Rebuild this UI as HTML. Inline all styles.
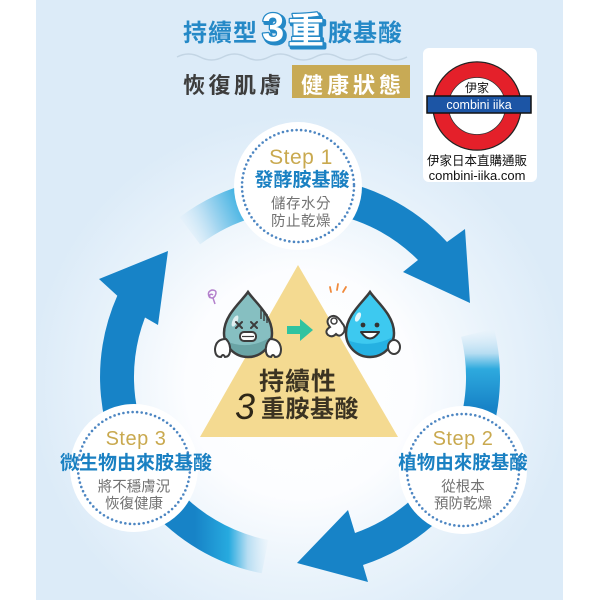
<!DOCTYPE html>
<html><head><meta charset="utf-8">
<style>
html,body{margin:0;padding:0;background:#fff;}
svg{display:block;}
text{font-family:"Liberation Sans","Noto Sans CJK TC",sans-serif;}
</style></head><body>
<svg width="600" height="600" viewBox="0 0 600 600" xmlns="http://www.w3.org/2000/svg">
<defs>
<radialGradient id="bg" cx="300" cy="385" r="270" gradientUnits="userSpaceOnUse">
<stop offset="0" stop-color="#ffffff"/>
<stop offset="0.42" stop-color="#fcfdff"/>
<stop offset="0.72" stop-color="#e9f3fb"/>
<stop offset="1" stop-color="#dcebf8"/>
</radialGradient>
<linearGradient id="gA" x1="0" y1="330" x2="0" y2="408" gradientUnits="userSpaceOnUse">
<stop offset="0" stop-color="#cfe7f6" stop-opacity="0"/>
<stop offset="0.3" stop-color="#b6ddf2"/>
<stop offset="0.5" stop-color="#2eaade"/>
<stop offset="1" stop-color="#1783c7"/>
</linearGradient>
<linearGradient id="gB" x1="270" y1="0" x2="195" y2="0" gradientUnits="userSpaceOnUse">
<stop offset="0" stop-color="#cfe7f6" stop-opacity="0"/>
<stop offset="0.3" stop-color="#b6ddf2"/>
<stop offset="0.55" stop-color="#27aadf"/>
<stop offset="1" stop-color="#1783c7"/>
</linearGradient>
<linearGradient id="gC" x1="182" y1="228" x2="245" y2="200" gradientUnits="userSpaceOnUse">
<stop offset="0" stop-color="#cfe7f6" stop-opacity="0"/>
<stop offset="0.45" stop-color="#a9d8f1"/>
<stop offset="1" stop-color="#33ade0"/>
</linearGradient>
</defs>

<!-- panel background -->
<rect x="36" y="0" width="527" height="600" fill="#dcebf8"/>
<rect x="36" y="0" width="527" height="600" fill="url(#bg)"/>

<!-- header -->
<text x="183" y="41" font-size="24" font-weight="700" fill="#2589c7" letter-spacing="1">持續型</text>
<text x="264" y="43" font-size="40" font-weight="700" fill="#2589c7" stroke="#2589c7" stroke-width="4" stroke-linejoin="round">3</text>
<text x="262" y="41" font-size="40" font-weight="700" fill="#ffffff" stroke="#2589c7" stroke-width="2.5" stroke-linejoin="round" paint-order="stroke">3</text>
<text x="290" y="45" font-size="36" font-weight="700" fill="#2589c7" stroke="#2589c7" stroke-width="4" stroke-linejoin="round">重</text>
<text x="288" y="43" font-size="36" font-weight="700" fill="#ffffff" stroke="#2589c7" stroke-width="2.5" stroke-linejoin="round" paint-order="stroke">重</text>
<text x="328" y="41" font-size="24" font-weight="700" fill="#2589c7" letter-spacing="1">胺基酸</text>
<path d="M177,57 q11.5,-6 23,0 t23,0 t23,0 t23,0 t23,0 t23,0 t23,0 t23,0 t23,0 t23,0" fill="none" stroke="#c3d5e4" stroke-width="1.5"/>
<text x="183" y="93" font-size="22" font-weight="700" fill="#3d3d3d" letter-spacing="3.5">恢復肌膚</text>
<rect x="292" y="65" width="118" height="33" fill="#c8aa55"/>
<text x="301" y="93" font-size="22" font-weight="700" fill="#ffffff" letter-spacing="4">健康狀態</text>

<!-- logo -->
<rect x="423" y="48" width="114" height="134" rx="6" fill="#ffffff"/>
<circle cx="477" cy="106" r="44" fill="#ffffff" stroke="#222" stroke-width="1.5"/>
<circle cx="477" cy="106" r="36" fill="#ffffff" stroke="#e4202a" stroke-width="15"/>
<circle cx="477" cy="106" r="28.5" fill="none" stroke="#333" stroke-width="0.8"/>
<text x="477" y="92" font-size="12" fill="#111" text-anchor="middle">伊家</text>
<rect x="427" y="96" width="104" height="17" fill="#1c55a5" stroke="#111" stroke-width="1.5"/>
<text x="479" y="109" font-size="12.5" fill="#ffffff" text-anchor="middle">combini iika</text>
<text x="477" y="165" font-size="12.5" fill="#111" text-anchor="middle">伊家日本直購通販</text>
<text x="477" y="180" font-size="13" fill="#111" text-anchor="middle">combini-iika.com</text>

<!-- faded trail segments -->
<path d="M494.1,328.6 A200,200 0 0 1 485.4,451.9 L453.9,439.2 A166,166 0 0 0 461.1,336.8 Z" fill="url(#gA)"/>
<path d="M261.8,573.3 A200,200 0 0 1 146.8,505.6 L172.8,483.7 A166,166 0 0 0 268.3,540 Z" fill="url(#gB)"/>
<path d="M179.6,217.3 A200,200 0 0 1 272.2,178.9 L276.9,212.6 A166,166 0 0 0 200.1,244.4 Z" fill="url(#gC)"/>

<!-- arrows -->
<path d="M317.4,177.8 A200,200 0 0 1 447,242 L465,229 L470,303 L403,272 L418,260 A166,166 0 0 0 314.5,211.6 Z" fill="#1783c7"/>
<path d="M481.3,461.5 A200,200 0 0 1 363,565 L368,582 L297,563 L348,510 L355,533 A166,166 0 0 0 450.4,447.2 Z" fill="#1783c7"/>
<path d="M136.2,491.7 A200,200 0 0 1 117.3,295.7 L99,279 L168,251 L158,325 L145,317.5 A166,166 0 0 0 164,472.2 Z" fill="#1783c7"/>

<!-- triangle -->
<polygon points="298,265 200,437 398,437" fill="#f4da91"/>
<text x="298" y="390" font-size="25" font-weight="700" fill="#3b3322" text-anchor="middle" letter-spacing="1">持續性</text>
<text x="235" y="419" font-size="36" fill="#2e2718" font-style="italic">3</text>
<text x="261" y="417" font-size="24" font-weight="700" fill="#3b3322" letter-spacing="0.5">重胺基酸</text>

<!-- green arrow -->
<path d="M287,326 L300,326 L300,319 L313,330 L300,341 L300,334 L287,334 Z" fill="#2fc3a0"/>

<!-- left sad drop -->
<path d="M210,298 q-4,-6 2,-8 q6,0 3,6 q-3,4 -6,0 q2,-3 4,-1 M213,298 l2,6" fill="none" stroke="#b480cc" stroke-width="1.5"/>
<g transform="translate(248,325)">
<path d="M0,-33 C6,-24 24,-10 24,8 A24,24 0 0 1 -24,8 C-24,-10 -6,-24 0,-33Z" fill="#86bfc1"/>
<path d="M-22,16 Q0,26 23,12 Q20,30 0,32 Q-18,30 -22,16Z" fill="#6aa4a5"/>
<path d="M0,-33 C6,-24 24,-10 24,8 A24,24 0 0 1 -24,8 C-24,-10 -6,-24 0,-33Z" fill="none" stroke="#3c3c3c" stroke-width="2.5"/>
<ellipse cx="-13" cy="-4" rx="2.5" ry="6" fill="#ffffff" opacity="0.75" transform="rotate(25 -13 -4)"/>
<path d="M-12,-3 l6,6 M-6,-3 l-6,6 M3,-3 l6,6 M9,-3 l-6,6" stroke="#3c3c3c" stroke-width="2" stroke-linecap="round"/>
<rect x="-8" y="7" width="16" height="9" rx="4" fill="#ffffff" stroke="#3c3c3c" stroke-width="2"/>
<path d="M-6,11.5 h12" stroke="#3c3c3c" stroke-width="1.2"/>
<path d="M13,-16 v10 M16,-14 v10 M19,-11 v9" stroke="#3c3c3c" stroke-width="1.4"/>
<path d="M-22,14 q-10,0 -11,10 q0,8 6,8 q2,-4 4,0 q4,0 5,-5 q1,-8 -4,-13Z" fill="#ffffff" stroke="#3c3c3c" stroke-width="2"/>
<path d="M22,14 q10,0 11,10 q0,8 -6,8 q-2,-4 -4,0 q-4,0 -5,-5 q-1,-8 4,-13Z" fill="#ffffff" stroke="#3c3c3c" stroke-width="2"/>
</g>

<!-- right happy drop -->
<path d="M331,292 l-1,-5 M337,290 l1,-6 M343,292 l3,-5" stroke="#f08a3c" stroke-width="1.8" stroke-linecap="round"/>
<g transform="translate(370,325)">
<path d="M0,-33 C6,-24 24,-10 24,8 A24,24 0 0 1 -24,8 C-24,-10 -6,-24 0,-33Z" fill="#3dc9f0"/>
<path d="M-23,15 Q0,24 23,12 Q20,30 0,32 Q-18,30 -23,15Z" fill="#25b1e2"/>
<path d="M0,-33 C6,-24 24,-10 24,8 A24,24 0 0 1 -24,8 C-24,-10 -6,-24 0,-33Z" fill="none" stroke="#3c3c3c" stroke-width="2.5"/>
<ellipse cx="-12" cy="-8" rx="2.5" ry="5" fill="#ffffff" opacity="0.85" transform="rotate(25 -12 -8)"/>
<circle cx="-7" cy="0" r="2.4" fill="#333"/>
<circle cx="7" cy="0" r="2.4" fill="#333"/>
<path d="M-9,7 Q0,20 9,7 Z" fill="#ffffff" stroke="#333" stroke-width="2" stroke-linejoin="round"/>
<path d="M-28,-2 q-6,-10 -12,-6 q-5,4 0,10 q-6,4 -2,8 q4,3 8,-1 q4,4 8,-2 q2,-5 -2,-9Z" fill="#ffffff" stroke="#3c3c3c" stroke-width="2"/>
<circle cx="-36" cy="-4" r="3" fill="none" stroke="#3c3c3c" stroke-width="1.5"/>
<ellipse cx="24" cy="22" rx="6" ry="7" fill="#ffffff" stroke="#3c3c3c" stroke-width="2"/>
</g>

<!-- step circles -->
<circle cx="298" cy="186" r="64" fill="#ffffff"/>
<circle cx="298" cy="186" r="56" fill="none" stroke="#4d86c2" stroke-width="2.6" stroke-dasharray="0 4.6" stroke-linecap="round"/>
<circle cx="134" cy="468" r="64" fill="#ffffff"/>
<circle cx="134" cy="468" r="56" fill="none" stroke="#4d86c2" stroke-width="2.6" stroke-dasharray="0 4.6" stroke-linecap="round"/>
<circle cx="463" cy="470" r="64" fill="#ffffff"/>
<circle cx="463" cy="470" r="56" fill="none" stroke="#4d86c2" stroke-width="2.6" stroke-dasharray="0 4.6" stroke-linecap="round"/>

<!-- step 1 text -->
<text x="301" y="164" font-size="21" fill="#c9a94f" text-anchor="middle" letter-spacing="0.5">Step 1</text>
<text x="302" y="186" font-size="19" font-weight="700" fill="#1a80c2" text-anchor="middle">發酵胺基酸</text>
<text x="301" y="208.5" font-size="14.5" fill="#727272" text-anchor="middle" letter-spacing="0.5">儲存水分</text>
<text x="301" y="226" font-size="14.5" fill="#727272" text-anchor="middle" letter-spacing="0.5">防止乾燥</text>

<!-- step 3 text -->
<text x="136" y="445" font-size="20" fill="#c9a94f" text-anchor="middle" letter-spacing="0.5">Step 3</text>
<text x="136" y="469" font-size="19" font-weight="700" fill="#1a80c2" text-anchor="middle">微生物由來胺基酸</text>
<text x="134" y="491.5" font-size="14.5" fill="#727272" text-anchor="middle">將不穩膚況</text>
<text x="134" y="508.5" font-size="14.5" fill="#727272" text-anchor="middle">恢復健康</text>

<!-- step 2 text -->
<text x="463" y="445" font-size="20" fill="#c9a94f" text-anchor="middle" letter-spacing="0.5">Step 2</text>
<text x="463" y="469" font-size="18.5" font-weight="700" fill="#1a80c2" text-anchor="middle">植物由來胺基酸</text>
<text x="463" y="491.5" font-size="14.5" fill="#727272" text-anchor="middle">從根本</text>
<text x="463" y="508.5" font-size="14.5" fill="#727272" text-anchor="middle">預防乾燥</text>
</svg>
</body></html>
